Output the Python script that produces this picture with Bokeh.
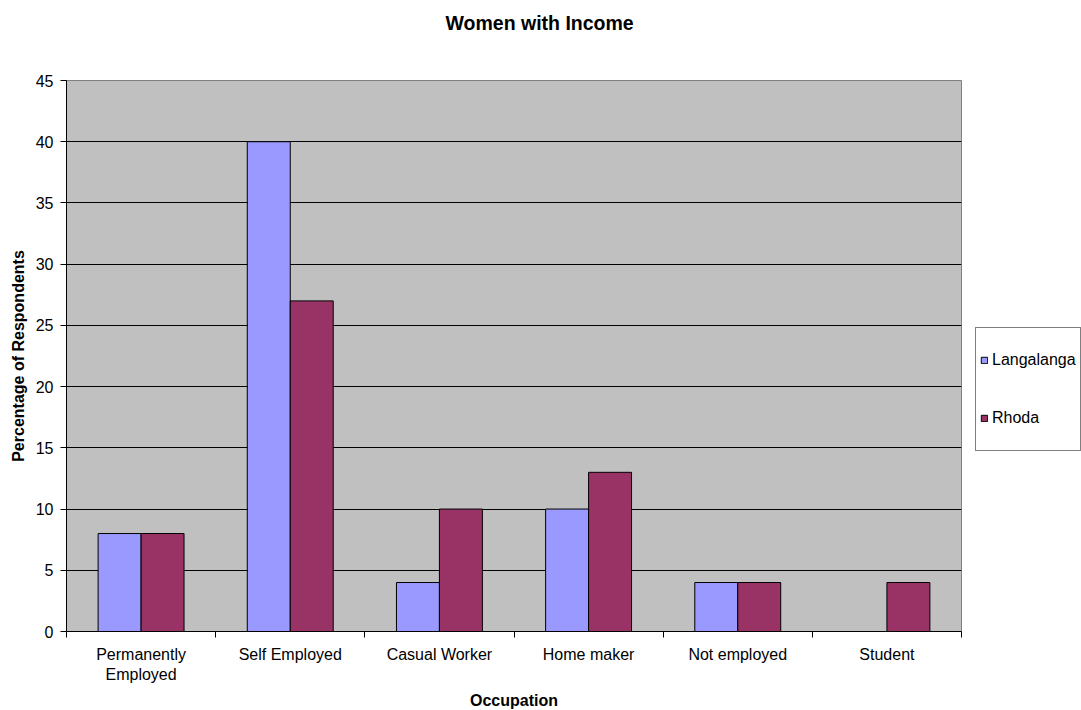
import numpy as np
from bokeh.plotting import figure
from bokeh.models import (ColumnDataSource, Range1d, FixedTicker, Legend, LegendItem)
from bokeh.transform import dodge
from bokeh.embed import file_html
from bokeh.resources import INLINE

# Survey results: share of respondents by occupation
categories = ["Permanently\nEmployed", "Self Employed", "Casual Worker",
              "Home maker", "Not employed", "Student"]
langalanga = [8, 40, 4, 10, 4, 0]
rhoda = [8, 27, 10, 13, 4, 4]
y_ticks = [0, 5, 10, 15, 20, 25, 30, 35, 40, 45]

FONT = "Liberation Sans"

centers = np.arange(len(categories)) + 0.5
source = ColumnDataSource(dict(x=centers, lang=langalanga, rhoda=rhoda))

p = figure(frame_width=895, frame_height=551, output_backend="svg", toolbar_location=None,
           x_range=Range1d(0, len(categories)), y_range=Range1d(0, 45),
           min_border_left=66, min_border_right=0,
           min_border_top=80, min_border_bottom=0)

p.background_fill_color = "#C0C0C0"
p.border_fill_color = "white"
p.outline_line_color = "#808080"
p.outline_line_width = 1

bar_w = 0.288
r_lang = p.vbar(x=dodge("x", -bar_w / 2, range=p.x_range), top="lang", width=bar_w,
                source=source, fill_color="#9999FF", line_color="black", line_width=1)
r_rhoda = p.vbar(x=dodge("x", bar_w / 2, range=p.x_range), top="rhoda", width=bar_w,
                 source=source, fill_color="#993366", line_color="black", line_width=1)

# Title, centred over the whole chart; trailing blank lines lift it above the plot
p.title.text = "Women with Income\n \n "
p.title.align = "left"
p.title.offset = 379
p.title.vertical_align = "bottom"
p.title.standoff = 6
p.title.text_font = FONT
p.title.text_font_size = "19.5px"
p.title.text_font_style = "bold"
p.title.text_color = "black"

# Grid
p.xgrid.grid_line_color = None
p.ygrid.grid_line_color = "black"
p.ygrid.grid_line_width = 1
p.ygrid.ticker = FixedTicker(ticks=y_ticks)

# Y axis
ya = p.yaxis[0]
ya.ticker = FixedTicker(ticks=y_ticks, minor_ticks=[])
ya.axis_line_color = "black"
ya.major_tick_line_color = "black"
ya.major_tick_out = 6
ya.major_tick_in = 0
ya.minor_tick_line_color = None
ya.major_label_standoff = 7
ya.major_label_text_font = FONT
ya.major_label_text_font_size = "16px"
ya.major_label_text_color = "black"
ya.axis_label = "Percentage of Respondents"
ya.axis_label_text_font = FONT
ya.axis_label_text_font_size = "16px"
ya.axis_label_text_font_style = "bold"
ya.axis_label_text_color = "black"
ya.axis_label_standoff = 6

# X axis: labels at category centres, tick marks at category boundaries
xa = p.xaxis[0]
xa.ticker = FixedTicker(ticks=list(centers),
                        minor_ticks=list(range(len(categories) + 1)))
xa.major_label_overrides = {float(c): lab for c, lab in zip(centers, categories)}
xa.axis_line_color = "black"
xa.major_tick_line_color = None
xa.major_tick_out = 6
xa.major_tick_in = 0
xa.minor_tick_line_color = "black"
xa.minor_tick_out = 6
xa.minor_tick_in = 0
xa.major_label_standoff = 8
xa.major_label_text_font = FONT
xa.major_label_text_font_size = "16px"
xa.major_label_text_color = "black"
xa.axis_label = "Occupation"
xa.axis_label_text_font = FONT
xa.axis_label_text_font_size = "16px"
xa.axis_label_text_font_style = "bold"
xa.axis_label_text_color = "black"
xa.axis_label_standoff = 6

legend = Legend(items=[LegendItem(label="Langalanga", renderers=[r_lang]),
                       LegendItem(label="Rhoda", renderers=[r_rhoda])],
                location=(14, 180), orientation="vertical",
                padding=4, spacing=2, margin=0,
                label_height=56, glyph_height=8, glyph_width=8,
                label_standoff=4,
                label_text_font=FONT, label_text_font_size="16px",
                label_text_color="black",
                border_line_color="black", border_line_width=1,
                background_fill_color="white", background_fill_alpha=1)
p.add_layout(legend, "right")

open("out.html", "w").write(file_html(p, INLINE))
